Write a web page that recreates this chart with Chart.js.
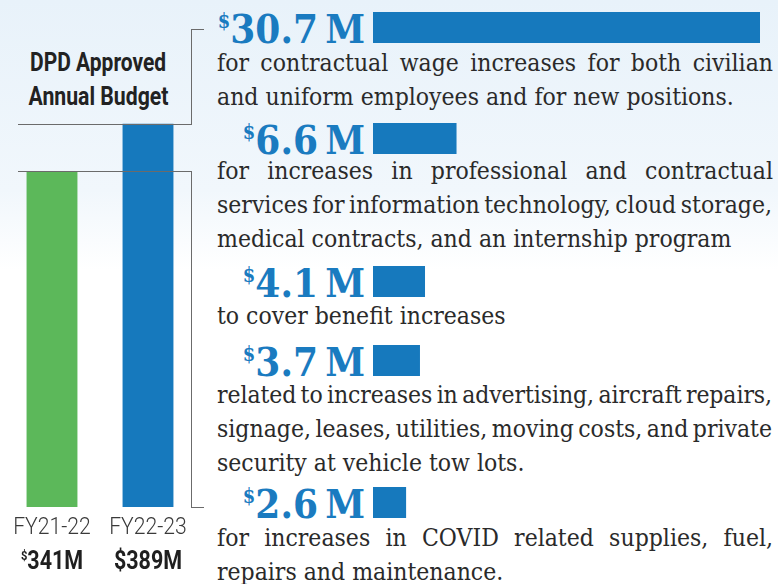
<!DOCTYPE html>
<html>
<head>
<meta charset="utf-8">
<script src="https://cdn.jsdelivr.net/npm/chart.js@4.4.1/dist/chart.umd.min.js"></script>
<style>
  html, body { margin: 0; padding: 0; }
  body {
    width: 778px; height: 584px; position: relative; overflow: hidden;
    background: linear-gradient(to bottom, #e8f2fa 0px, #f1f7fc 190px, #ffffff 270px);
    color: #2a2a2a;
  }
  .title {
    position: absolute; left: 0; top: 46px; width: 196px; text-align: center;
    font-family: Roboto, sans-serif; font-weight: bold; font-size: 25px; line-height: 34px; color: #222;
  }
  .title span { display: inline-block; white-space: nowrap; transform-origin: center; }
  .ln { position: absolute; background: #6b6b6b; z-index: 5; }
  .amt {
    position: absolute; right: 413px; white-space: nowrap;
    font-family: "DejaVu Serif", serif; font-stretch: condensed; font-weight: bold;
    color: #1a7bc0; font-size: 40px; line-height: 40px;
  }
  .amt sup { font-size: 20px; line-height: 20px; vertical-align: top; position: relative; top: 2px; }
  .desc {
    position: absolute; left: 217px; width: 556px;
    font-family: "DejaVu Serif", serif; font-stretch: condensed;
    font-size: 24.5px; line-height: 34px; color: #2a2a2a;
  }
  .desc div { white-space: nowrap; text-align: left; }
  .desc div.just { text-align: justify; text-align-last: justify; }
  canvas.row { position: absolute; left: 373px; }
  #budget { position: absolute; left: 4px; top: 113px; }
</style>
</head>
<body>
<div class="title"><span data-w="136">DPD Approved</span><br><span data-w="140">Annual Budget</span></div>
<canvas id="budget" width="192" height="471"></canvas>
<script>
// left chart: approved annual budget ($M)
const years = ["FY21-22", "FY22-23"];
const budgets = [341, 389];
const budgetColors = ["#5cb85a", "#1679bd"];

// right side: budget increases ($M)
const increases = [30.7, 6.6, 4.1, 3.7, 2.6];
const descriptions = [
  ["for contractual wage increases for both civilian",
   "and uniform employees and for new positions."],
  ["for increases in professional and contractual",
   "services for information technology, cloud storage,",
   "medical contracts, and an internship program"],
  ["to cover benefit increases"],
  ["related to increases in advertising, aircraft repairs,",
   "signage, leases, utilities, moving costs, and private",
   "security at vehicle tow lots."],
  ["for increases in COVID related supplies, fuel,",
   "repairs and maintenance."],
];

// layout (px)
const rowTops = [12, 123, 266, 345, 487];
const descTops = [46, 154, 299, 378, 521];
const textWidth = 556;

// squeeze title lines to the narrow look of the original
document.querySelectorAll(".title span").forEach((s) => {
  const w = s.getBoundingClientRect().width;
  s.style.transform = `scaleX(${(+s.dataset.w / w).toFixed(3)})`;
});

const budgetLabels = {
  id: "budgetLabels",
  afterDraw(chart) {
    const { ctx } = chart;
    const x = chart.scales.x;
    const base = chart.chartArea.bottom;
    ctx.save();
    ctx.textBaseline = "alphabetic";
    years.forEach((yr, i) => {
      const px = x.getPixelForValue(i);
      ctx.fillStyle = "#3a3a3a";
      ctx.font = "300 23px Roboto";
      ctx.textAlign = "center";
      ctx.save();
      ctx.translate(px, base + 27);
      ctx.scale(0.92, 1);
      ctx.fillText(yr, 0, 0);
      ctx.restore();

      // amount, first one with a small raised dollar sign
      ctx.fillStyle = "#1f1f1f";
      const big = "bold 25px Roboto";
      const small = "bold 13px Roboto";
      const num = budgets[i] + "M";
      ctx.font = big;
      const wNum = ctx.measureText(num).width;
      ctx.font = i === 0 ? small : big;
      const wD = ctx.measureText("$").width;
      ctx.save();
      ctx.translate(px, base + 62);
      ctx.scale(0.86, 1);
      const sx = -(wNum + wD) / 2;
      ctx.textAlign = "left";
      ctx.fillText("$", sx, i === 0 ? -9 : 0);
      ctx.font = big;
      ctx.fillText(num, sx + wD, 0);
      ctx.restore();
    });
    ctx.restore();
  },
};

new Chart(document.getElementById("budget"), {
  type: "bar",
  data: {
    labels: years,
    datasets: [{
      data: budgets,
      backgroundColor: budgetColors,
      barPercentage: 0.53,
      categoryPercentage: 1,
    }],
  },
  options: {
    responsive: false,
    animation: false,
    layout: { padding: { bottom: 77 } },
    plugins: { legend: { display: false }, tooltip: { enabled: false } },
    scales: {
      x: { display: false },
      y: { display: false, min: 0, max: 400 },
    },
  },
  plugins: [budgetLabels],
});

const maxInc = Math.max(...increases);
increases.forEach((v, i) => {
  const amt = document.createElement("div");
  amt.className = "amt";
  amt.style.top = rowTops[i] - 3 + "px";
  amt.innerHTML = "<sup>$</sup>" + v + "\u2009M";
  document.body.appendChild(amt);

  const c = document.createElement("canvas");
  c.className = "row";
  c.width = 387;
  c.height = 31;
  c.style.top = rowTops[i] + "px";
  document.body.appendChild(c);
  new Chart(c, {
    type: "bar",
    data: {
      labels: ["$" + v + " M"],
      datasets: [{ data: [v], backgroundColor: "#1679bd", barPercentage: 1, categoryPercentage: 1 }],
    },
    options: {
      indexAxis: "y",
      responsive: false,
      animation: false,
      plugins: { legend: { display: false }, tooltip: { enabled: false } },
      scales: {
        x: { display: false, min: 0, max: maxInc },
        y: { display: false },
      },
    },
  });

  const d = document.createElement("div");
  d.className = "desc";
  d.style.top = descTops[i] + "px";
  document.body.appendChild(d);
  descriptions[i].forEach((line, j) => {
    const l = document.createElement("div");
    const s = document.createElement("span");
    s.textContent = line;
    l.appendChild(s);
    d.appendChild(l);
    const last = j === descriptions[i].length - 1;
    const w = s.getBoundingClientRect().width;
    if (w > textWidth) {
      // tighten word spacing first, then letters
      const spaces = line.split(" ").length - 1;
      let over = w - textWidth + 1;
      const ws = Math.max(-over / spaces, -2.5);
      l.style.wordSpacing = ws + "px";
      over += ws * spaces;
      if (over > 0) l.style.letterSpacing = -(over / line.length) + "px";
    } else if (!last) {
      l.className = "just";
    }
  });
});

// bracket lines
[
  [18, 124, 174, 1], [191, 29, 1, 96], [191, 29, 13, 1],
  [18, 171, 174, 1], [191, 171, 1, 337], [191, 507, 13, 1],
].forEach(([l, t, w, h]) => {
  const e = document.createElement("div");
  e.className = "ln";
  e.style.cssText = `left:${l}px;top:${t}px;width:${w}px;height:${h}px`;
  document.body.appendChild(e);
});
</script>
</body>
</html>
